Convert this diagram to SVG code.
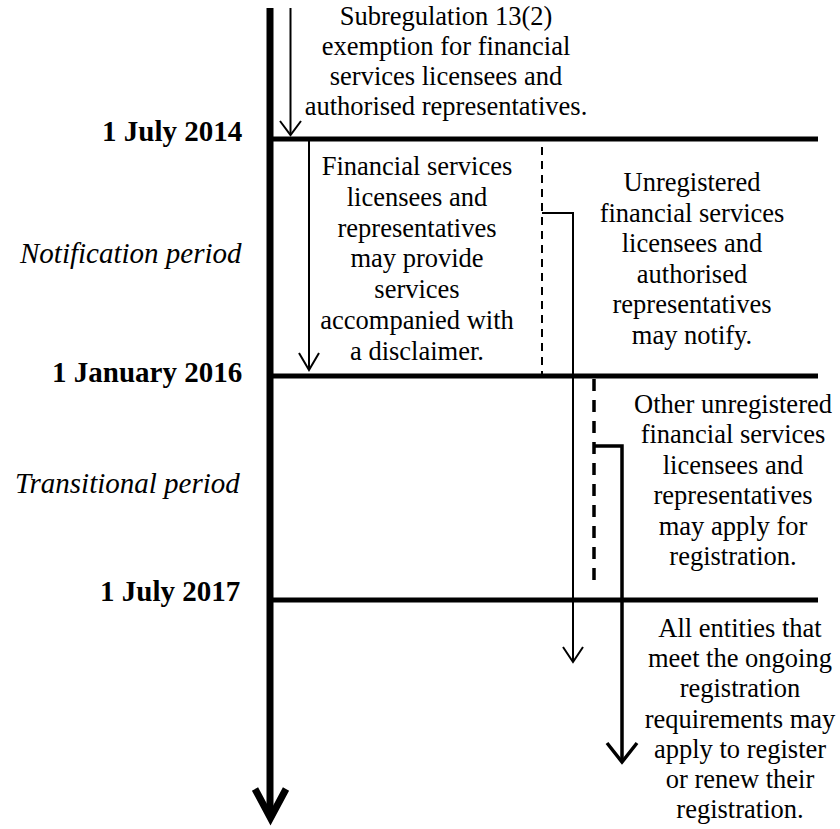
<svg xmlns="http://www.w3.org/2000/svg" width="840" height="829" viewBox="0 0 840 829">
<style>
text{font-family:"Liberation Serif","Times New Roman",serif;font-size:26.5px;fill:#000}
.date{font-weight:bold;font-size:29px}
.period{font-style:italic;font-size:29px}
.body{text-anchor:middle}
.thick{stroke:#000;fill:none;stroke-width:7}
.rule{stroke:#000;fill:none;stroke-width:5}
.thin{stroke:#000;fill:none;stroke-width:2}
.mid{stroke:#000;fill:none;stroke-width:3.5}
.dash1{stroke-dasharray:8 6}
.dash2{stroke-dasharray:12 9}
</style>
<rect width="840" height="829" fill="#fff"/>
<g id="connectors">
<line class="thick" x1="270" y1="8" x2="270" y2="816"/>
<path class="thick" d="M255,789 L270.5,818 L286,789"/>
<line class="rule" x1="270" y1="139" x2="818" y2="139"/>
<line class="rule" x1="270" y1="376" x2="818" y2="376"/>
<line class="rule" x1="270" y1="600" x2="818" y2="600"/>
<line class="thin" x1="290.5" y1="8" x2="290.5" y2="135"/>
<path class="thin" d="M280,121 L290.5,135 L301,121"/>
<line class="thin" x1="309" y1="141" x2="309" y2="370"/>
<path class="thin" d="M299,353 L309,370 L319,353"/>
<line class="thin dash1" x1="542" y1="147" x2="542" y2="374"/>
<path class="thin" d="M542,213 H573 V661"/>
<path class="thin" d="M563,647 L573,662 L583,647"/>
<line class="mid dash2" x1="594" y1="379" x2="594" y2="588"/>
<path class="mid" d="M594,446 H622 V760"/>
<path class="mid" d="M607,743 L622,762 L637,743"/>
</g>
<g id="date-2014"><text class="date" x="102" y="141">1 July 2014</text></g>
<g id="notification-period"><text class="period" x="20" y="263">Notification period</text></g>
<g id="date-2016"><text class="date" x="52" y="381.5">1 January 2016</text></g>
<g id="transitional-period"><text class="period" x="15" y="493">Transitional period</text></g>
<g id="date-2017"><text class="date" x="100" y="601">1 July 2017</text></g>
<g id="exemption">
<text class="body" x="446" y="25">Subregulation 13(2)</text>
<text class="body" x="446" y="55">exemption for financial</text>
<text class="body" x="446" y="85">services licensees and</text>
<text class="body" x="446" y="115">authorised representatives.</text>
</g>
<g id="disclaimer">
<text class="body" x="417" y="175">Financial services</text>
<text class="body" x="417" y="206">licensees and</text>
<text class="body" x="417" y="237">representatives</text>
<text class="body" x="417" y="267">may provide</text>
<text class="body" x="417" y="298">services</text>
<text class="body" x="417" y="329">accompanied with</text>
<text class="body" x="417" y="360">a disclaimer.</text>
</g>
<g id="notify">
<text class="body" x="692" y="191">Unregistered</text>
<text class="body" x="692" y="222">financial services</text>
<text class="body" x="692" y="252">licensees and</text>
<text class="body" x="692" y="283">authorised</text>
<text class="body" x="692" y="313">representatives</text>
<text class="body" x="692" y="344">may notify.</text>
</g>
<g id="apply">
<text class="body" x="733" y="413">Other unregistered</text>
<text class="body" x="733" y="443">financial services</text>
<text class="body" x="733" y="474">licensees and</text>
<text class="body" x="733" y="504">representatives</text>
<text class="body" x="733" y="535">may apply for</text>
<text class="body" x="733" y="565">registration.</text>
</g>
<g id="ongoing">
<text class="body" x="740" y="637">All entities that</text>
<text class="body" x="740" y="667">meet the ongoing</text>
<text class="body" x="740" y="697">registration</text>
<text class="body" x="740" y="728">requirements may</text>
<text class="body" x="740" y="758">apply to register</text>
<text class="body" x="740" y="788">or renew their</text>
<text class="body" x="740" y="818">registration.</text>
</g>
</svg>
